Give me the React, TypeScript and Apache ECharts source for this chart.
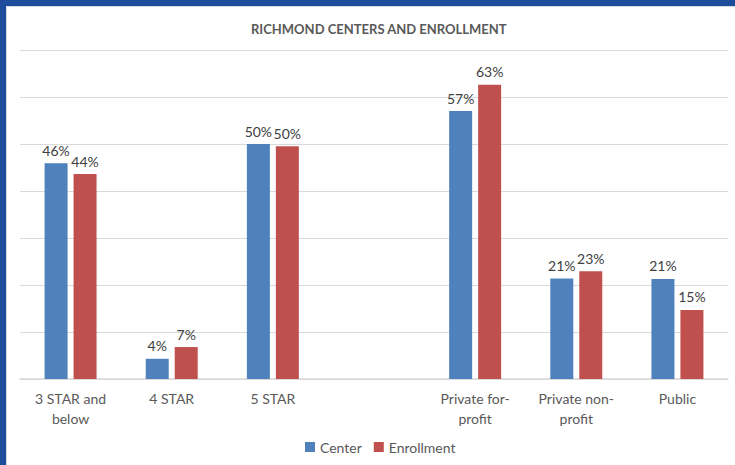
import React, { useEffect, useRef } from "react";
import * as echarts from "echarts";

const categories = ["3 STAR and\nbelow", "4 STAR", "5 STAR", "", "Private for-\nprofit", "Private non-\nprofit", "Public"];
const centerValues: (number | null)[] = [45.9, 4.3, 50.0, null, 57.0, 21.4, 21.3];
const enrollmentValues: (number | null)[] = [43.6, 6.8, 49.5, null, 62.6, 22.9, 14.7];
const seriesNames = ["Center", "Enrollment"];
const titleText = "RICHMOND CENTERS AND ENROLLMENT";

export default function App() {
  const ref = useRef<HTMLDivElement>(null);
  useEffect(() => {
    if (!ref.current) return;
    const chart = echarts.init(ref.current, null, { renderer: "svg" });
    const font = "Lato, 'Open Sans', sans-serif";
    const label = {
      show: true,
      position: "top" as const,
      distance: 6,
      color: "#404040",
      fontSize: 14,
      fontFamily: font,
      formatter: (p: any) => (p.value == null ? "" : Math.round(p.value) + "%"),
    };
    chart.setOption({
      animation: false,
      backgroundColor: "#ffffff",
      title: {
        text: titleText,
        left: 246,
        top: 17,
        textStyle: { fontSize: 13, fontWeight: "bold", color: "#595959", fontFamily: font },
      },
      legend: {
        bottom: 6,
        left: 300,
        itemWidth: 10,
        itemHeight: 10,
        itemGap: 12,
        icon: "rect",
        textStyle: { fontSize: 14, color: "#595959", fontFamily: font },
        data: seriesNames,
      },
      grid: { left: 20, right: 7, top: 50, bottom: 86 },
      xAxis: {
        type: "category",
        data: categories,
        axisLine: { lineStyle: { color: "#D9D9D9", width: 1.5 } },
        axisTick: { show: false },
        axisLabel: { color: "#595959", fontSize: 14, fontFamily: font, margin: 9, lineHeight: 20, interval: 0 },
      },
      yAxis: {
        type: "value",
        min: 0,
        max: 70,
        interval: 10,
        axisLabel: { show: false },
        axisLine: { show: false },
        axisTick: { show: false },
        splitLine: { lineStyle: { color: "#D9D9D9", width: 1 } },
      },
      series: [
        {
          name: seriesNames[0],
          type: "bar",
          data: centerValues,
          barWidth: 23,
          barGap: "26%",
          itemStyle: { color: "#4F81BD" },
          label,
        },
        {
          name: seriesNames[1],
          type: "bar",
          data: enrollmentValues,
          barWidth: 23,
          itemStyle: { color: "#C0504D" },
          label,
        },
      ],
      graphic: [
        { type: "rect", shape: { x: 0, y: 0, width: 735, height: 6 }, style: { fill: "#1C4C9B" } },
        { type: "rect", shape: { x: 0, y: 0, width: 6, height: 465 }, style: { fill: "#1C4C9B" } },
        { type: "rect", shape: { x: 6, y: 6, width: 1, height: 459 }, style: { fill: "#D9D9D9" } },
        { type: "rect", shape: { x: 6, y: 6, width: 729, height: 1 }, style: { fill: "#D9D9D9" } },
      ],
    });
    return () => chart.dispose();
  }, []);
  return (
    <div style={{ position: "absolute", left: 0, top: 0 }}>
      <div ref={ref} style={{ width: 735, height: 465 }} />
    </div>
  );
}
